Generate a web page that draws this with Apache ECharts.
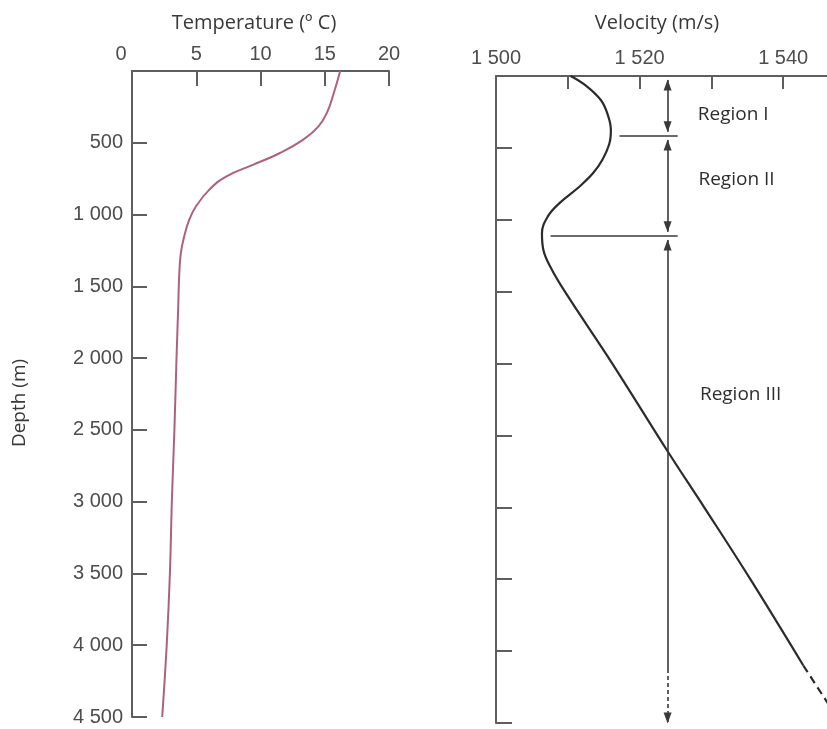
<!DOCTYPE html>
<html><head><meta charset="utf-8">
<script src="https://cdn.jsdelivr.net/npm/echarts@6/dist/echarts.min.js"></script>
<style>html,body{margin:0;padding:0;background:#fff}#c{width:827px;height:729px}</style>
</head><body><div id="c"></div>
<script>
// ---- data ----
const tempDepth  = [0, 155, 295, 387, 480, 573, 654, 735, 828, 944, 1037, 1153, 1269, 1432, 1663, 2011, 2500, 3000, 3500, 4000, 4500];
const tempValues = [16.2, 15.7, 15.15, 14.5, 13.3, 11.48, 9.4, 7.32, 6.0, 4.97, 4.45, 4.06, 3.8, 3.67, 3.59, 3.46, 3.3, 3.1, 2.95, 2.7, 2.35];

const velDepth  = [0, 70, 167, 260, 376, 468, 584, 677, 770, 886, 978, 1094, 1210, 1330, 1500, 2000, 2610, 3000, 3498, 4100];
const velValues = [1510.4, 1512.6, 1514.6, 1515.5, 1516.0, 1515.8, 1514.8, 1513.5, 1511.6, 1508.8, 1507.2, 1506.4, 1506.6, 1507.6, 1509.6, 1516.2, 1523.9, 1529.0, 1535.4, 1542.8];
const velDashDepth  = [4100, 4500];
const velDashValues = [1542.8, 1548.0];

const tempTicks = [0, 5, 10, 15, 20];
const velTickLabels = [1500, 1520, 1540];
const depthTicks = [0, 500, 1000, 1500, 2000, 2500, 3000, 3500, 4000, 4500];

const arrowVelocity = 1523.9;
const regionArrowSpans = [[28, 387], [445, 1083], [1141, 4125]];
const regionDashSpan = [4125, 4500];
const boundaryDepths = [417, 1113];
const boundaryStartV = [1517.2, 1507.6];
const boundaryEndV = 1525.3;

const regionNames = ['Region I', 'Region II', 'Region III'];
const regionLabelV = [1528.1, 1528.2, 1528.4];
const regionLabelDepth = [271, 722, 2215];

// ---- helpers ----
const fmt = v => String(v).replace(/\B(?=(\d{3})+(?!\d))/g, ' ');
const axisColor = '#5e5e5e';
const tickFont = {color: '#4d4d4d', fontSize: 20, fontFamily: 'Liberation Sans, Arial, sans-serif'};
const textFont = 'Open Sans, Noto Sans, sans-serif';
const textColor = '#383838';

const arrowSym = {symbol: 'triangle', symbolSize: [8, 11], symbolOffset: [0, 5]};

const markData = [];
regionArrowSpans.forEach((s, i) => {
  const last = i === regionArrowSpans.length - 1;
  markData.push([
    Object.assign({coord: [arrowVelocity, s[0]]}, arrowSym),
    Object.assign({coord: [arrowVelocity, s[1]]}, last ? {symbol: 'none'} : arrowSym)
  ]);
});
markData.push([
  {coord: [arrowVelocity, regionDashSpan[0]], symbol: 'none', lineStyle: {type: [4, 3]}},
  Object.assign({coord: [arrowVelocity, regionDashSpan[1]]}, arrowSym, {lineStyle: {type: [4, 3]}})
]);
boundaryDepths.forEach((d, i) => {
  markData.push([
    {coord: [boundaryStartV[i], d], symbol: 'none'},
    {coord: [boundaryEndV, d], symbol: 'none'}
  ]);
});

const chart = echarts.init(document.getElementById('c'), null, {renderer: 'canvas'});
const option = {
  animation: false,
  backgroundColor: '#fff',
  grid: [
    {left: 132, top: 71, width: 257, height: 646, outerBoundsMode: 'none'},
    {left: 496, top: 76, right: -28, height: 647, outerBoundsMode: 'none'}
  ],
  xAxis: [
    {
      gridIndex: 0, type: 'value', position: 'top', min: tempTicks[0], max: tempTicks[tempTicks.length - 1], interval: 5,
      axisLine: {show: true, lineStyle: {color: axisColor, width: 2}},
      axisTick: {show: true, inside: true, length: 15, lineStyle: {color: axisColor, width: 2}},
      axisLabel: Object.assign({}, tickFont, {
        margin: 7, showMinLabel: true, showMaxLabel: true,
        formatter: v => v === 0 ? '{z|0}' : String(v),
        rich: {z: Object.assign({}, tickFont, {padding: [0, 22, 0, 0]})}
      }),
      splitLine: {show: false}
    },
    {
      gridIndex: 1, type: 'value', position: 'top', min: 1500, max: 1550, interval: 10,
      axisLine: {show: true, lineStyle: {color: axisColor, width: 2}},
      axisTick: {show: true, inside: true, length: 13, lineStyle: {color: axisColor, width: 2}},
      axisLabel: Object.assign({}, tickFont, {
        margin: 8,
        formatter: v => velTickLabels.indexOf(v) >= 0 ? fmt(v) : ''
      }),
      splitLine: {show: false}
    }
  ],
  yAxis: [
    {
      gridIndex: 0, type: 'value', inverse: true, min: depthTicks[0], max: depthTicks[depthTicks.length - 1], interval: 500,
      axisLine: {show: true, lineStyle: {color: axisColor, width: 2}},
      axisTick: {show: true, inside: true, length: 15, lineStyle: {color: axisColor, width: 2}},
      axisLabel: Object.assign({}, tickFont, {margin: 9, formatter: v => v === 0 ? '' : fmt(v)}),
      splitLine: {show: false}
    },
    {
      gridIndex: 1, type: 'value', inverse: true, min: depthTicks[0], max: depthTicks[depthTicks.length - 1], interval: 500,
      axisLine: {show: true, lineStyle: {color: axisColor, width: 2}},
      axisTick: {show: true, inside: true, length: 16, lineStyle: {color: axisColor, width: 2}},
      axisLabel: {show: false},
      splitLine: {show: false}
    }
  ],
  graphic: [
    {type: 'text', x: 254, y: 23, style: {text: 'Temperature (º C)', fill: textColor, font: '20px ' + textFont, textAlign: 'center', textVerticalAlign: 'middle'}},
    {type: 'text', x: 657, y: 23, style: {text: 'Velocity (m/s)', fill: textColor, font: '20px ' + textFont, textAlign: 'center', textVerticalAlign: 'middle'}},
    {type: 'text', x: 20, y: 403, rotation: Math.PI / 2, style: {text: 'Depth (m)', fill: textColor, font: '19px ' + textFont, textAlign: 'center', textVerticalAlign: 'middle'}}
  ],
  series: [
    {
      type: 'line', xAxisIndex: 0, yAxisIndex: 0, symbol: 'none', smooth: 0.45,
      data: tempDepth.map((d, i) => [tempValues[i], d]),
      lineStyle: {color: '#b0607f', width: 2}
    },
    {
      type: 'line', xAxisIndex: 1, yAxisIndex: 1, symbol: 'none', smooth: 0.4,
      data: velDepth.map((d, i) => [velValues[i], d]),
      lineStyle: {color: '#2b2b2b', width: 2.2},
      markLine: {
        silent: true, animation: false, symbol: ['none', 'none'],
        label: {show: false},
        lineStyle: {color: '#3a3a3a', width: 1.6, type: 'solid'},
        itemStyle: {color: '#111'},
        emphasis: {disabled: true},
        data: markData
      }
    },
    {
      type: 'line', xAxisIndex: 1, yAxisIndex: 1, symbol: 'none',
      data: velDashDepth.map((d, i) => [velDashValues[i], d]),
      lineStyle: {color: '#2b2b2b', width: 2.2, type: [8, 5]}
    },
    {
      type: 'scatter', xAxisIndex: 1, yAxisIndex: 1, symbolSize: 0, silent: true,
      data: regionNames.map((n, i) => ({name: n, value: [regionLabelV[i], regionLabelDepth[i]]})),
      itemStyle: {color: 'rgba(0,0,0,0)', opacity: 1},
      label: {show: true, position: 'right', distance: 0, formatter: '{b}', color: '#2e2e2e', opacity: 1, fontSize: 19, fontFamily: textFont}
    }
  ]
};
chart.setOption(option);
</script>
</body></html>
